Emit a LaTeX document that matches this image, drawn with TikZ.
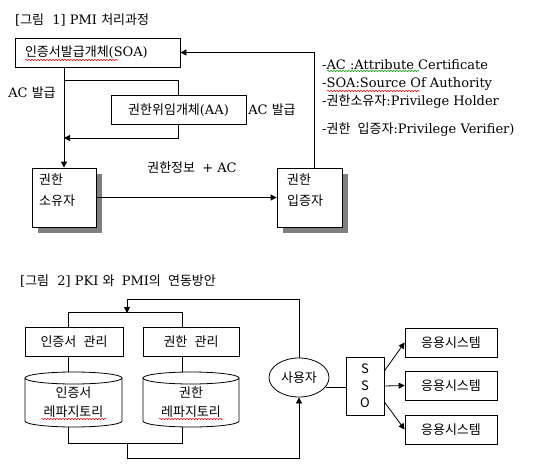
\documentclass[tikz,border=0pt]{standalone}
\usepackage{fontspec}
\setmainfont{DejaVu Serif}
\newfontfamily\kr{Noto Sans CJK KR}
\usetikzlibrary{arrows.meta,shapes.geometric,shadows,decorations.pathmorphing}
\newcommand\ksp{\hspace{0.55em}}
\tikzset{
  ln/.style={line width=0.8pt},
  box/.style={draw, ln, inner sep=0pt, minimum height=29pt},
  shbox/.style={box, fill=white, drop shadow={shadow xshift=6pt, shadow yshift=-6pt, fill=black!50, opacity=1}},
  arr/.style={ln, -{Triangle[length=6pt,width=6pt]}},
  lbl/.style={inner sep=0pt},
  two/.style={lbl, align=left, font=\kr\fontsize{13}{20.5}\selectfont},
  wavy/.style={decorate, decoration={snake, amplitude=0.7pt, segment length=3pt}, line width=0.5pt},
}
\begin{document}
\begin{tikzpicture}[x=1pt, y=-1pt, every node/.style={font=\fontsize{13}{16}\selectfont}]
\useasboundingbox (0,0) rectangle (546,471);

% ---------- Figure 1 ----------
\node[lbl, anchor=base west] (t1) at (15,24) {[{\kr 그림}~~1] PMI {\kr 처리과정}};

\node[box, minimum width=165pt, text width=145pt, align=left] (soa) at (97.5,52.5) {{\kr 인증서발급개체}(SOA)};
\node[box, minimum width=135pt] (aa) at (178.5,110) {{\kr 권한위임개체}(AA)};
\node[shbox, minimum width=64pt, minimum height=59pt] (holder) at (64,197.5) {};
\node[shbox, minimum width=65pt, minimum height=59pt] (ver) at (309.5,197.5) {};
\node[two, anchor=north west] (holdertxt) at (39,174) {권한\\소유자};
\node[two, anchor=north west] (vertxt) at (287,174) {권한\\입증자};

\coordinate (b1) at (64,80);
\coordinate (b2) at (64,138);
\draw[arr] ([xshift=4.5pt]ver.north) |- (soa.east);
\draw[arr] (soa.south -| holder.north) -- (holder.north);
\draw[ln] (b1) -| (aa.north);
\draw[arr] (aa.south) |- (b2);
\draw[arr] (holder.east) -- (ver.west);

\node[lbl] (acl) at (32,93) {AC {\kr 발급}};
\node[lbl] (acr) at (272,110) {AC {\kr 발급}};
\node[lbl] (info) at (192,168) {{\kr 권한정보}\ksp+ AC};

\node[lbl, anchor=base west] (l1) at (322,69) {-AC :Attribute Certificate};
\node[lbl, anchor=base west] (l2) at (322,87) {-SOA:Source Of Authority};
\node[lbl, anchor=base west] (l3) at (322,105) {-{\kr 권한소유자}:Privilege Holder};
\node[lbl, anchor=base west] (l4) at (322,133) {-{\kr 권한\ksp 입증자}:Privilege Verifier)};

\draw[red, wavy] (25,60) -- (118,60);
\draw[green!60!black, wavy] (327,71) -- (419,71);
\draw[red, wavy] (327,91) -- (420,91);

% ---------- Figure 2 ----------
\node[lbl, anchor=base west] (t2) at (20,285) {[{\kr 그림}~~2] PKI {\kr 와}\ksp PMI{\kr 의\ksp 연동방안}};

\node[box, minimum width=98pt] (cm) at (74,342) {{\kr 인증서\ksp 관리}};
\node[box, minimum width=96pt] (pm) at (191,342) {{\kr 권한\ksp 관리}};

% cylinders
\draw[ln] (73.5,378) ellipse [x radius=48.5pt, y radius=6pt];
\draw[ln] (25,378) -- (25,421) arc[start angle=180, end angle=360, x radius=48.5pt, y radius=6pt] -- (122,378);
\draw[ln] (191,378) ellipse [x radius=48pt, y radius=6pt];
\draw[ln] (143,378) -- (143,421) arc[start angle=180, end angle=360, x radius=48pt, y radius=6pt] -- (239,378);
\node[lbl, align=center, font=\kr\fontsize{13}{19}\selectfont] (r1) at (73.5,402.5) {인증서\\레파지토리};
\node[lbl, align=center, font=\kr\fontsize{13}{19}\selectfont] (r2) at (191,402.5) {권한\\레파지토리};
\draw[red, wavy] (41,419) -- (106,419);
\draw[red, wavy] (159,419) -- (223,419);

\coordinate (r1t) at (68,372);
\coordinate (r1b) at (68,427);
\coordinate (r2t) at (182,372);
\coordinate (r2b) at (182,427);
\coordinate (topj) at (127,313);
\coordinate (botj) at (127,443);

\draw[ln] (r1t |- cm.north) -- ++(0,-15) -| (r2t |- pm.north);
\draw[ln] (r1t |- cm.south) -- (r1t);
\draw[ln] (r2t |- pm.south) -- (r2t);
\draw[ln] (r1b) -- ++(0,16) -| (r2b);

\node[draw, ln, ellipse, minimum width=60pt, minimum height=39pt, inner sep=0pt] (user) at (299,377.5) {{\kr 사용자}};
\draw[arr] (user.north) |- (127,299) -- (topj);
\draw[arr] (botj) -- (127,458) -| (user.south);

\node[box, minimum width=38pt, minimum height=58pt, align=center, font=\kr\fontsize{13}{17}\selectfont] (sso) at (365,386) {S\\S\\O};
\draw[ln] (user.-20) -- (user.-20 -| sso.west);

\node[box, minimum width=92pt] (a1) at (451,342.5) {{\kr 응용시스템}};
\node[box, minimum width=92pt] (a2) at (451,385.5) {{\kr 응용시스템}};
\node[box, minimum width=92pt] (a3) at (451,429.5) {{\kr 응용시스템}};
\draw[arr] ([yshift=15pt]sso.east) -- (a1.west);
\draw[arr] (sso.east) -- (a2.west);
\draw[arr] ([yshift=-16pt]sso.east) -- (a3.west);
\end{tikzpicture}
\end{document}
